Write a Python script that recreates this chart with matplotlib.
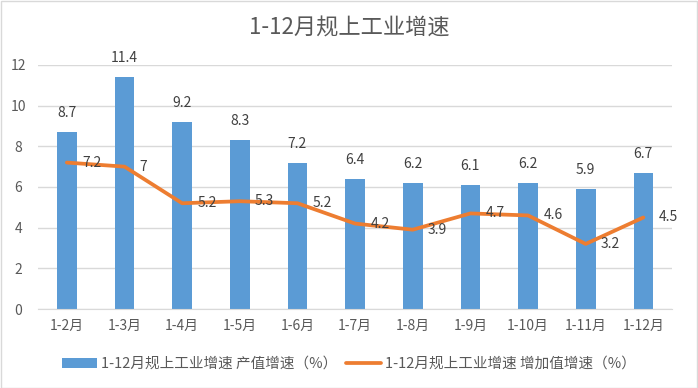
import matplotlib

matplotlib.use("Agg")

import matplotlib.pyplot as plt
from matplotlib.patches import Rectangle

plt.rcParams["font.family"] = ["Noto Sans CJK SC", "DejaVu Sans"]

TITLE = "1-12月规上工业增速"
CATEGORIES = ["1-2月", "1-3月", "1-4月", "1-5月", "1-6月", "1-7月",
              "1-8月", "1-9月", "1-10月", "1-11月", "1-12月"]
OUTPUT_GROWTH = [8.7, 11.4, 9.2, 8.3, 7.2, 6.4, 6.2, 6.1, 6.2, 5.9, 6.7]
VALUE_ADDED_GROWTH = [7.2, 7, 5.2, 5.3, 5.2, 4.2, 3.9, 4.7, 4.6, 3.2, 4.5]
BAR_LABEL = "1-12月规上工业增速 产值增速（%）"
LINE_LABEL = "1-12月规上工业增速 增加值增速（%）"
Y_TICKS = [0, 2, 4, 6, 8, 10, 12]

BLUE = "#5B9BD5"
ORANGE = "#ED7D31"
TEXT = "#595959"
GRID = "#D9D9D9"


def main():

    fig = plt.figure(figsize=(6.98, 3.88), dpi=100)
    fig.patches.append(Rectangle((0.001, 0.001), 0.997, 0.996, transform=fig.transFigure,
                                 fill=False, edgecolor=GRID, linewidth=1))

    ax = fig.add_axes([0.0545, 0.2036, 0.9085, 0.629])
    x = list(range(len(CATEGORIES)))

    bars = ax.bar(x, OUTPUT_GROWTH, width=0.34, color=BLUE, label=BAR_LABEL, zorder=2)
    line, = ax.plot(x, VALUE_ADDED_GROWTH, color=ORANGE, linewidth=2.7,
                    solid_joinstyle="round", solid_capstyle="round",
                    label=LINE_LABEL, zorder=3)

    for xi, v in zip(x, OUTPUT_GROWTH):
        ax.annotate(f"{v:g}", (xi, v), xytext=(0, 13.5), textcoords="offset points",
                    ha="center", va="center", fontsize=10, color="#404040")
    for xi, v in zip(x, VALUE_ADDED_GROWTH):
        ax.annotate(f"{v:g}", (xi, v), xytext=(11, 0), textcoords="offset points",
                    ha="left", va="center", fontsize=10, color="#404040")

    ax.set_xlim(-0.5, len(CATEGORIES) - 0.5)
    ax.set_ylim(0, 12)
    ax.set_yticks(Y_TICKS)
    ax.set_xticks(x)
    ax.set_xticklabels(CATEGORIES)
    ax.tick_params(axis="both", length=0, labelsize=10, colors=TEXT)
    ax.tick_params(axis="x", pad=7)
    ax.tick_params(axis="y", pad=14)
    for lbl in ax.get_yticklabels():
        lbl.set_horizontalalignment("center")

    ax.grid(axis="y", color=GRID, linewidth=1, zorder=0)
    ax.set_axisbelow(True)
    for side in ("top", "right", "left"):
        ax.spines[side].set_visible(False)
    ax.spines["bottom"].set_color(GRID)

    fig.text(0.5, 0.928, TITLE, ha="center", va="center", fontsize=16, color=TEXT)

    fig.legend(handles=[bars, line], loc="center", bbox_to_anchor=(0.5, 0.062),
               ncol=2, frameon=False, fontsize=10.5, labelcolor=TEXT,
               handlelength=2.4, handleheight=0.7, columnspacing=0.6, handletextpad=0.3)

    fig.savefig("out.png", dpi=100)
    plt.close(fig)


if __name__ == "__main__":
    main()
